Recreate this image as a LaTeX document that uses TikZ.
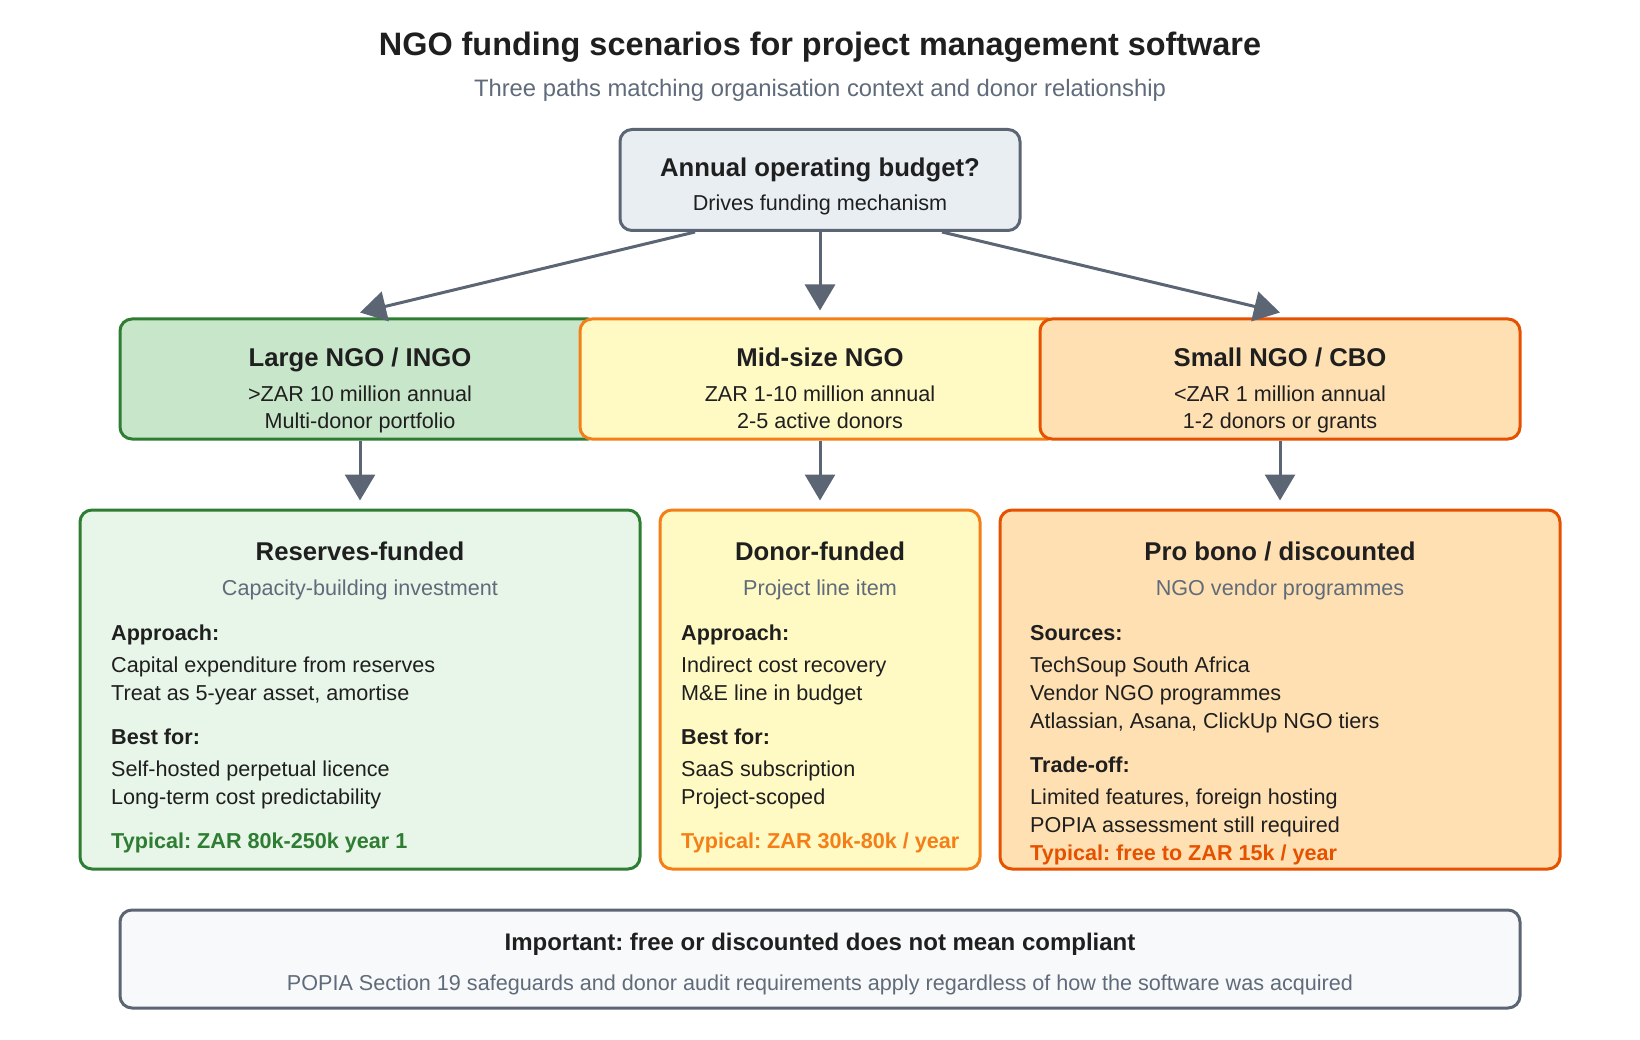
\documentclass[tikz,border=0pt]{standalone}
\usepackage{fontspec}
\setmainfont{Liberation Sans}
\usetikzlibrary{arrows.meta,calc}
\definecolor{slate}{HTML}{5B6573}
\definecolor{topfill}{HTML}{E9EEF2}
\definecolor{gline}{HTML}{2E7D32}
\definecolor{gfill}{HTML}{C8E6C9}
\definecolor{glight}{HTML}{E8F5E9}
\definecolor{yline}{HTML}{F57F17}
\definecolor{yfill}{HTML}{FFF9C4}
\definecolor{oline}{HTML}{E65100}
\definecolor{ofill}{HTML}{FFE0B2}
\definecolor{footfill}{HTML}{F8F9FA}
\definecolor{ink}{HTML}{1F1F1F}
\definecolor{subgray}{HTML}{5F6B7A}
\frenchspacing
\newcommand\fTitle{\fontsize{32.4}{38}\selectfont\bfseries}
\newcommand\fSub{\fontsize{23.8}{28}\selectfont}
\newcommand\fHead{\fontsize{25.7}{30}\selectfont\bfseries}
\newcommand\fBody{\fontsize{21.6}{26}\selectfont}
\newcommand\fLab{\fontsize{21.6}{26}\selectfont\bfseries}
\newcommand\fFoot{\fontsize{24}{28}\selectfont\bfseries}
\begin{document}
\begin{tikzpicture}[x=1pt,y=-1pt,
  box/.style={draw, line width=3pt, rounded corners=12pt, inner sep=0pt},
  ctxt/.style={inner sep=0pt, anchor=base, text=ink},
  ltxt/.style={inner sep=0pt, anchor=base west, text=ink},
  arr/.style={draw=slate, line width=3pt, -{Triangle[length=26pt,width=30pt]}}]
\useasboundingbox[fill=white] (0,0) rectangle (1640,1040);

% title
\node[ctxt] (title) at (820,56) {\fTitle NGO funding scenarios for project management software};
\node[ctxt, text=subgray] (subtitle) at (820,97) {\fSub Three paths matching organisation context and donor relationship};

% top decision box
\node[box, draw=slate, fill=topfill, minimum width=400pt, minimum height=101pt] (top) at (820,180) {};
\node[ctxt] (topH) at (820,177) {\fHead Annual operating budget?};
\node[ctxt] (topS) at (820,211) {\fBody Drives funding mechanism};

% middle row
\node[box, draw=gline, fill=gfill, minimum width=480pt, minimum height=120pt] (large) at (360,379) {};
\node[box, draw=yline, fill=yfill, minimum width=480pt, minimum height=120pt] (mid) at (820,379) {};
\node[box, draw=oline, fill=ofill, minimum width=480pt, minimum height=120pt] (small) at (1280,379) {};

\node[ctxt] (largeH) at (360,366) {\fHead Large NGO / INGO};
\node[ctxt] (largeA) at (360,401) {\fBody >ZAR 10 million annual};
\node[ctxt] (largeB) at (360,428) {\fBody Multi-donor portfolio};

\node[ctxt] (midH) at (820,366) {\fHead Mid-size NGO};
\node[ctxt] (midA) at (820,401) {\fBody ZAR 1-10 million annual};
\node[ctxt] (midB) at (820,428) {\fBody 2-5 active donors};

\node[ctxt] (smallH) at (1280,366) {\fHead Small NGO / CBO};
\node[ctxt] (smallA) at (1280,401) {\fBody <ZAR 1 million annual};
\node[ctxt] (smallB) at (1280,428) {\fBody 1-2 donors or grants};

% arrows top -> middle
\draw[arr] ($(top.south)+(-125,0)$) -- ($(large.north)+(0,-5)$);
\draw[arr] (top.south) -- ($(mid.north)+(0,-7)$);
\draw[arr] ($(top.south)+(122,0)$) -- ($(small.north)+(0,-5)$);

% bottom row
\node[box, draw=gline, fill=glight, minimum width=560pt, minimum height=359pt] (reserves) at (360,689.5) {};
\node[box, draw=yline, fill=yfill, minimum width=320pt, minimum height=359pt] (donor) at (820,689.5) {};
\node[box, draw=oline, fill=ofill, minimum width=560pt, minimum height=359pt] (probono) at (1280,689.5) {};

% arrows middle -> bottom
\draw[arr] (large.south) -- ($(reserves.north)+(0,-8)$);
\draw[arr] (mid.south) -- ($(donor.north)+(0,-8)$);
\draw[arr] (small.south) -- ($(probono.north)+(0,-8)$);

% reserves card
\node[ctxt] (rH) at (360,560) {\fHead Reserves-funded};
\node[ctxt, text=subgray] (rS) at (360,595) {\fBody Capacity-building investment};
\node[ltxt] (r1) at (111,640) {\fLab Approach:};
\node[ltxt] (r2) at (111,672) {\fBody Capital expenditure from reserves};
\node[ltxt] (r3) at (111,700) {\fBody Treat as 5-year asset, amortise};
\node[ltxt] (r4) at (111,744) {\fLab Best for:};
\node[ltxt] (r5) at (111,776) {\fBody Self-hosted perpetual licence};
\node[ltxt] (r6) at (111,804) {\fBody Long-term cost predictability};
\node[ltxt, text=gline] (r7) at (111,848) {\fLab Typical: ZAR 80k-250k year 1};

% donor card
\node[ctxt] (dH) at (820,560) {\fHead Donor-funded};
\node[ctxt, text=subgray] (dS) at (820,595) {\fBody Project line item};
\node[ltxt] (d1) at (681,640) {\fLab Approach:};
\node[ltxt] (d2) at (681,672) {\fBody Indirect cost recovery};
\node[ltxt] (d3) at (681,700) {\fBody M\&E line in budget};
\node[ltxt] (d4) at (681,744) {\fLab Best for:};
\node[ltxt] (d5) at (681,776) {\fBody SaaS subscription};
\node[ltxt] (d6) at (681,804) {\fBody Project-scoped};
\node[ltxt, text=yline] (d7) at (681,848) {\fLab Typical: ZAR 30k-80k / year};

% pro bono card
\node[ctxt] (pH) at (1280,560) {\fHead Pro bono / discounted};
\node[ctxt, text=subgray] (pS) at (1280,595) {\fBody NGO vendor programmes};
\node[ltxt] (p1) at (1030,640) {\fLab Sources:};
\node[ltxt] (p2) at (1030,672) {\fBody TechSoup South Africa};
\node[ltxt] (p3) at (1030,700) {\fBody Vendor NGO programmes};
\node[ltxt] (p4) at (1030,728) {\fBody Atlassian, Asana, ClickUp NGO tiers};
\node[ltxt] (p5) at (1030,772) {\fLab Trade-off:};
\node[ltxt] (p6) at (1030,804) {\fBody Limited features, foreign hosting};
\node[ltxt] (p7) at (1030,832) {\fBody POPIA assessment still required};
\node[ltxt, text=oline] (p8) at (1030,860) {\fLab Typical: free to ZAR 15k / year};

% footer
\node[box, draw=slate, fill=footfill, minimum width=1400pt, minimum height=98pt] (foot) at (820,959) {};
\node[ctxt] (footH) at (820,950) {\fFoot Important: free or discounted does not mean compliant};
\node[ctxt, text=subgray] (footS) at (820,990) {\fBody POPIA Section 19 safeguards and donor audit requirements apply regardless of how the software was acquired};
\end{tikzpicture}
\end{document}
